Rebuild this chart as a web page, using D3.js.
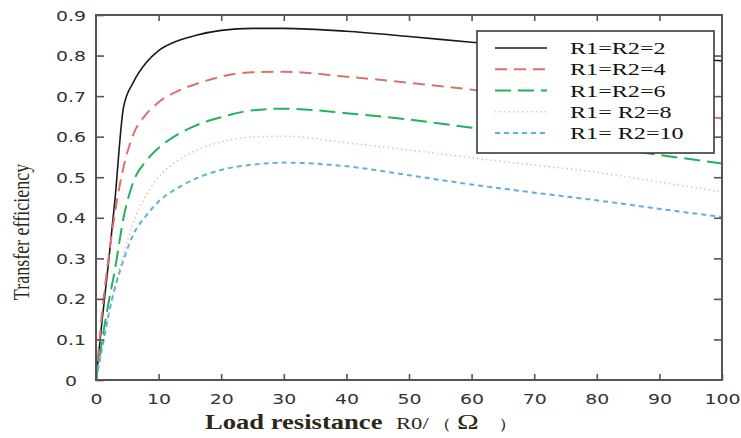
<!DOCTYPE html>
<html>
<head>
<meta charset="utf-8">
<script src="https://cdn.jsdelivr.net/npm/d3@7"></script>
<style>
  body { margin: 0; background: #fff; }
  svg { display: block; }
</style>
</head>
<body>
<svg id="chart" width="741" height="438"></svg>
<script>
// load resistance R0 (ohm), shared x values
var loadR = [0, 1, 2, 3, 4.4, 6, 8, 10, 13, 16, 20, 25, 30, 40, 50, 60, 70, 80, 90, 100];

// transfer efficiency
var eff2  = [0, 0.15, 0.29, 0.44, 0.673, 0.735, 0.782, 0.812, 0.836, 0.85, 0.862, 0.867, 0.867, 0.86, 0.847, 0.833, 0.82, 0.807, 0.796, 0.787];
var eff4  = [0, 0.17, 0.30, 0.41, 0.525, 0.607, 0.655, 0.685, 0.712, 0.73, 0.748, 0.759, 0.76, 0.748, 0.733, 0.716, 0.697, 0.68, 0.662, 0.645];
var eff6  = [0, 0.10, 0.19, 0.27, 0.40, 0.49, 0.54, 0.572, 0.605, 0.628, 0.648, 0.665, 0.669, 0.658, 0.642, 0.622, 0.60, 0.577, 0.555, 0.534];
var eff8  = [0, 0.08, 0.16, 0.23, 0.31, 0.39, 0.455, 0.50, 0.54, 0.566, 0.587, 0.599, 0.601, 0.585, 0.567, 0.548, 0.53, 0.512, 0.488, 0.464];
var eff10 = [0, 0.08, 0.16, 0.225, 0.296, 0.36, 0.405, 0.44, 0.473, 0.497, 0.518, 0.531, 0.536, 0.527, 0.505, 0.482, 0.462, 0.443, 0.422, 0.402];

var seriesNames = ["R1=R2=2", "R1=R2=4", "R1=R2=6", "R1= R2=8", "R1= R2=10"];
var xTicks = [0, 10, 20, 30, 40, 50, 60, 70, 80, 90, 100];
var yTicks = [0, 0.1, 0.2, 0.3, 0.4, 0.5, 0.6, 0.7, 0.8, 0.9];

// styles per series
var styles = [
  { color: "#1a1a1a", width: 1.6, dash: null },
  { color: "#d9726c", width: 2,   dash: "12,7" },
  { color: "#20b35a", width: 2,   dash: "16,7" },
  { color: "#f2c0a8", width: 1.6, dash: "1.5,3" },
  { color: "#5db3d4", width: 2,   dash: "5,4" }
];
var allEff = [eff2, eff4, eff6, eff8, eff10];

var svg = d3.select("#chart");
var margin = { left: 96, top: 15, right: 19, bottom: 58 };
var width = 741 - margin.left - margin.right,
    height = 438 - margin.top - margin.bottom;
var SX = 1.35; // the picture is stretched sideways

var x = d3.scaleLinear().domain([0, 100]).range([0, width]);
var y = d3.scaleLinear().domain([0, 0.9]).range([height, 0]);

var g = svg.append("g").attr("transform", "translate(" + margin.left + "," + margin.top + ")");

g.append("clipPath").attr("id", "clip")
  .append("rect").attr("width", width).attr("height", height);

// curves
var line = d3.line()
  .x(function(d) { return x(d[0]); })
  .y(function(d) { return y(d[1]); })
  .curve(d3.curveMonotoneX);

allEff.forEach(function(vals, i) {
  var pts = loadR.map(function(r, k) { return [r, vals[k]]; });
  g.append("path")
    .attr("clip-path", "url(#clip)")
    .attr("d", line(pts))
    .attr("fill", "none")
    .attr("stroke", styles[i].color)
    .attr("stroke-width", styles[i].width)
    .attr("stroke-dasharray", styles[i].dash);
});

// axes, ticks pointing inward on all four sides
var axisColor = "#555";
function styleAxis(sel) {
  sel.select(".domain").remove();
  sel.selectAll(".tick line").attr("stroke", axisColor).attr("stroke-width", 1.6);
}

var xAxis = g.append("g").attr("transform", "translate(0," + height + ")")
  .call(d3.axisBottom(x).tickValues(xTicks).tickSizeInner(-6).tickSizeOuter(0).tickFormat(d3.format("d")));
styleAxis(xAxis);
xAxis.selectAll(".tick text")
  .attr("y", 0).attr("dy", 0)
  .attr("transform", "translate(0,24) scale(" + SX + ",1)")
  .attr("font-family", "DejaVu Sans").attr("font-size", 14).attr("fill", "#333");

var yAxis = g.append("g")
  .call(d3.axisLeft(y).tickValues(yTicks).tickSizeInner(-8).tickSizeOuter(0).tickFormat(function(d) { return d === 0 ? "0" : d3.format(".1f")(d); }));
styleAxis(yAxis);
yAxis.selectAll(".tick text")
  .attr("x", 0).attr("dy", "0.36em")
  .attr("text-anchor", "middle")
  .attr("transform", "translate(-25,0) scale(" + SX + ",1)")
  .attr("font-family", "DejaVu Sans").attr("font-size", 14).attr("fill", "#333");

var xTop = g.append("g")
  .call(d3.axisTop(x).tickValues(xTicks.slice(1, -1)).tickSizeInner(-6).tickSizeOuter(0).tickFormat(""));
styleAxis(xTop);
var yRight = g.append("g").attr("transform", "translate(" + width + ",0)")
  .call(d3.axisRight(y).tickValues(yTicks.slice(1, -1)).tickSizeInner(-8).tickSizeOuter(0).tickFormat(""));
styleAxis(yRight);

// frame
g.append("rect")
  .attr("width", width).attr("height", height)
  .attr("fill", "none").attr("stroke", axisColor).attr("stroke-width", 2);

// legend
var lg = svg.append("g").attr("transform", "translate(477,31)");
lg.append("rect")
  .attr("width", 237).attr("height", 122)
  .attr("fill", "#fff").attr("stroke", "#3a3a3a").attr("stroke-width", 1.6);

var rowY = d3.scalePoint().domain(d3.range(seriesNames.length)).range([17, 102]);
seriesNames.forEach(function(name, i) {
  var ry = rowY(i);
  lg.append("line")
    .attr("x1", 18).attr("x2", 70).attr("y1", ry).attr("y2", ry)
    .attr("stroke", styles[i].color)
    .attr("stroke-width", styles[i].width)
    .attr("stroke-dasharray", styles[i].dash);
  lg.append("text")
    .attr("transform", "translate(93," + (ry + 6) + ") scale(1.42,1)")
    .attr("font-family", "Liberation Serif").attr("font-size", 17).attr("fill", "#111")
    .text(name);
});

// axis titles
var titleColor = "#2e2616";
function stretchedText(px, py, txt, size, bold) {
  svg.append("text")
    .attr("transform", "translate(" + px + "," + py + ") scale(1.33,1)")
    .attr("font-family", "Liberation Serif").attr("font-size", size)
    .attr("font-weight", bold ? "bold" : "normal")
    .attr("fill", titleColor)
    .text(txt);
}
stretchedText(205, 429, "Load resistance", 20, true);
stretchedText(396, 429, "R0/", 17, false);
stretchedText(432, 429, "（", 15, false);
stretchedText(457, 429, "Ω", 22, false);
stretchedText(498, 429, "）", 15, false);

svg.append("text")
  .attr("transform", "translate(29,232) rotate(-90) scale(1,1.3)")
  .attr("text-anchor", "middle")
  .attr("font-family", "Liberation Serif").attr("font-size", 18).attr("fill", titleColor)
  .text("Transfer efficiency");
</script>
</body>
</html>
